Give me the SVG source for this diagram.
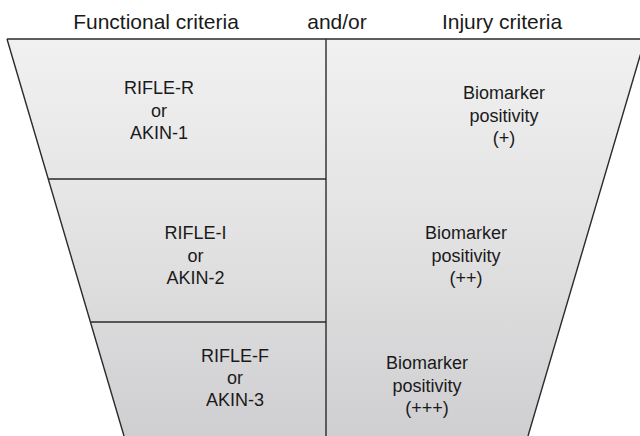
<svg xmlns="http://www.w3.org/2000/svg" width="640" height="436" viewBox="0 0 640 436">
<defs>
<linearGradient id="g" x1="0" y1="39" x2="0" y2="436" gradientUnits="userSpaceOnUse">
<stop offset="0" stop-color="#f1f1f1"/>
<stop offset="0.5" stop-color="#e2e2e3"/>
<stop offset="1" stop-color="#cfcfd1"/>
</linearGradient>
<style>
text{font-family:"Liberation Sans",Arial,sans-serif;fill:#1a1a1a;text-anchor:middle}
.h{font-size:21px}
.t{font-size:18px}
.ln{stroke:#2a2a2a;stroke-width:1.4;fill:none}
</style>
</defs>
<rect width="640" height="436" fill="#ffffff"/>
<g id="headers">
<text class="h" x="156" y="29">Functional criteria</text>
<text class="h" x="337" y="29">and/or</text>
<text class="h" x="502" y="29">Injury criteria</text>
</g>
<g id="funnel">
<polygon points="7,39 645,39 528,436 124,436" fill="url(#g)"/>
</g>
<g id="connectors">
<line class="ln" x1="7" y1="39" x2="640" y2="39"/>
<line class="ln" x1="7" y1="39" x2="124" y2="436"/>
<line class="ln" x1="645" y1="39" x2="528" y2="436"/>
<line class="ln" x1="326" y1="39" x2="326" y2="436"/>
<line class="ln" x1="48" y1="179" x2="326" y2="179"/>
<line class="ln" x1="90.5" y1="322" x2="326" y2="322"/>
</g>
<g id="node-f1">
<text class="t" x="159" y="94">RIFLE-R</text>
<text class="t" x="159" y="117">or</text>
<text class="t" x="159" y="139">AKIN-1</text>
</g>
<g id="node-f2">
<text class="t" x="195.5" y="239">RIFLE-I</text>
<text class="t" x="195.5" y="261.5">or</text>
<text class="t" x="195.5" y="284">AKIN-2</text>
</g>
<g id="node-f3">
<text class="t" x="235" y="361.5">RIFLE-F</text>
<text class="t" x="235" y="384">or</text>
<text class="t" x="235" y="406">AKIN-3</text>
</g>
<g id="node-i1">
<text class="t" x="504" y="99">Biomarker</text>
<text class="t" x="504" y="121.5">positivity</text>
<text class="t" x="504" y="144">(+)</text>
</g>
<g id="node-i2">
<text class="t" x="466" y="239">Biomarker</text>
<text class="t" x="466" y="261.5">positivity</text>
<text class="t" x="466" y="284">(++)</text>
</g>
<g id="node-i3">
<text class="t" x="427" y="369">Biomarker</text>
<text class="t" x="427" y="391.5">positivity</text>
<text class="t" x="427" y="414">(+++)</text>
</g>
</svg>
